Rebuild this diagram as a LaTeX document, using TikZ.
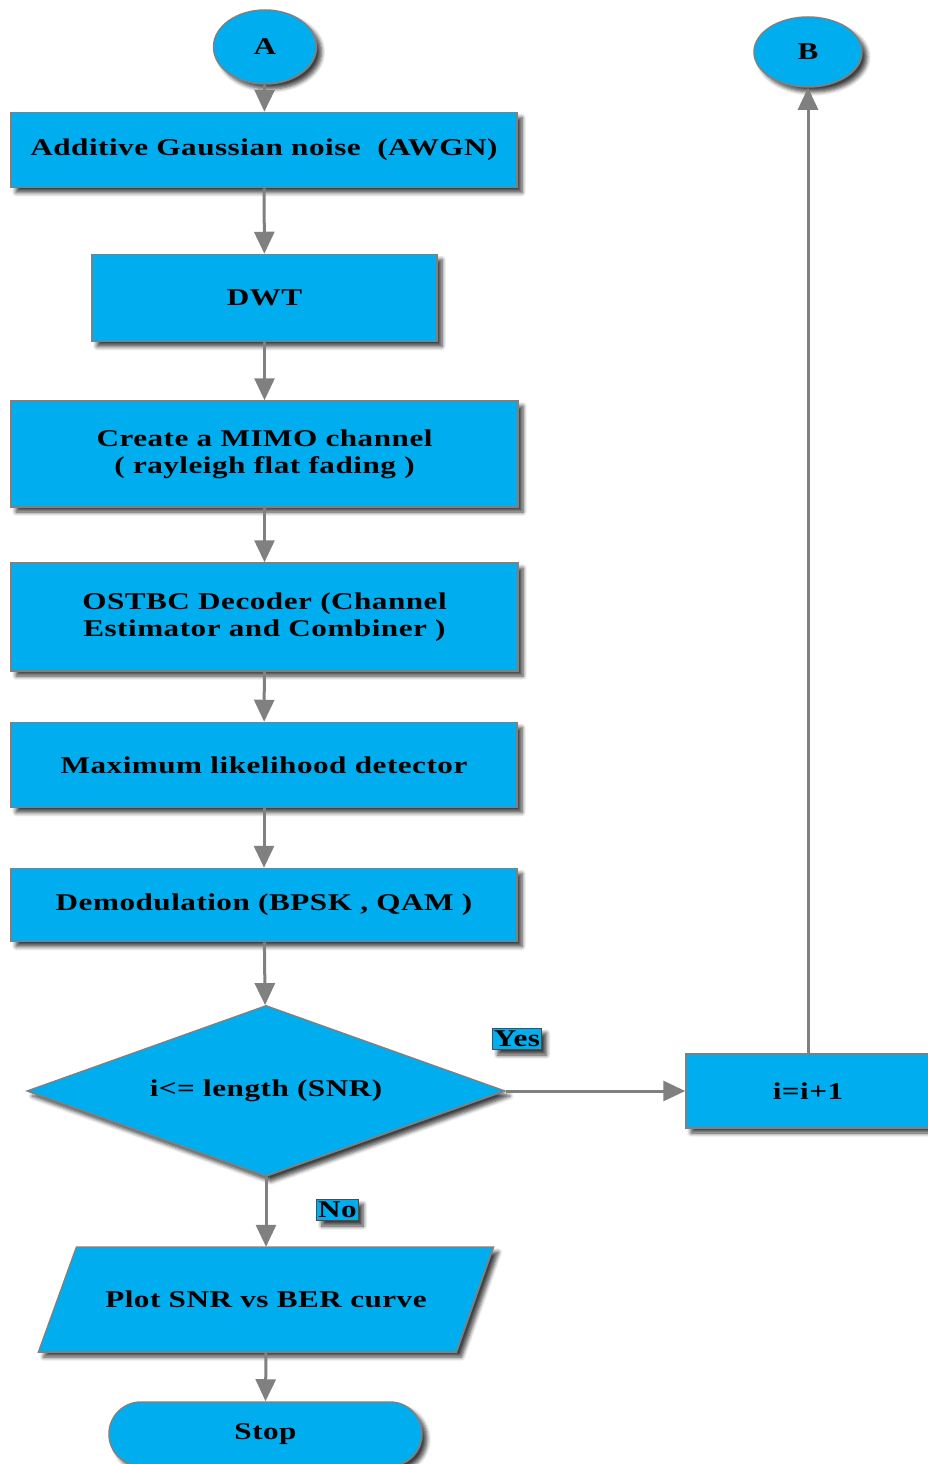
\documentclass[tikz,border=0pt]{standalone}
\usepackage{fontspec}
\setmainfont{Liberation Serif}[FakeStretch=1.3,LetterSpace=2]
\usetikzlibrary{shapes.geometric,shadows.blur,arrows.meta,calc}
\definecolor{boxblue}{HTML}{00AEEF}
\definecolor{edgegray}{HTML}{808080}
\begin{document}
\begin{tikzpicture}[x=1pt,y=-1pt,
  shade box/.style={blur shadow={shadow xshift=5pt,shadow yshift=-5pt,shadow opacity=75,shadow blur radius=4pt,shadow blur steps=6}},
  skin/.style={fill=boxblue,draw=edgegray,line width=1.5pt,shade box},
  label text/.style={text=black,align=center,inner sep=0pt,font=\bfseries\fontsize{24}{27}\selectfont},
  base/.style={skin,label text},
  stepbox/.style={base,rectangle},
  terminal/.style={base,ellipse,minimum width=103pt,minimum height=74pt},
  decision/.style={base,diamond,aspect=2.8,minimum width=478pt,minimum height=171pt},
  tag/.style={fill=boxblue,draw=black!70,line width=1pt,inner xsep=1.5pt,inner ysep=3pt,text=black,
    font=\bfseries\fontsize{24}{26}\selectfont,shade box},
  flow/.style={draw=edgegray,line width=3pt,-{Triangle[length=22pt,width=20pt,fill=edgegray]}}
]
\useasboundingbox (0,0) rectangle (928,1464);

% start and loop connectors
\node[terminal] (A) at (265,47) {A};
\node[terminal,minimum width=108pt,minimum height=70pt] (B) at (808,52) {B};

% processing chain
\node[stepbox,minimum width=506pt,minimum height=75pt] (awgn) at (264,150) {Additive Gaussian noise\ \ (AWGN)};
\node[stepbox,minimum width=345pt,minimum height=87pt] (dwt) at (264.5,298) {DWT};
\node[stepbox,minimum width=507pt,minimum height=106pt] (mimo) at (264.5,454) {Create a MIMO channel\\( rayleigh flat fading )};
\node[stepbox,minimum width=507pt,minimum height=108pt] (ostbc) at (264.5,617) {OSTBC Decoder (Channel\\Estimator and Combiner )};
\node[stepbox,minimum width=506pt,minimum height=85pt] (ml) at (264,765) {Maximum likelihood detector};
\node[stepbox,minimum width=506pt,minimum height=73pt] (demod) at (264,905) {Demodulation (BPSK , QAM )};

% loop test
\node[decision] (test) at (266,1091) {i<= length (SNR)};
\node[stepbox,minimum width=244pt,minimum height=74pt] (inc) at (808,1091) {i=i+1};

% output: slanted box first, then its text node on top
\coordinate (plotc) at (266,1299.5);
\path[skin] ($(plotc)+(-227.5,52.5)$) -- ($(plotc)+(-189.5,-52.5)$) -- ($(plotc)+(227.5,-52.5)$)
  -- ($(plotc)+(190.5,52.5)$) -- cycle;
\node[label text,rectangle,minimum width=455pt,minimum height=105pt] (plot) at (plotc) {Plot SNR vs BER curve};

% end
\node[stepbox,rounded corners=32pt,minimum width=313pt,minimum height=64pt] (stop) at (265.5,1434) {Stop};

% branch labels
\node[tag] (yes) at (517,1039) {Yes};
\node[tag] (no) at (337.5,1210) {No};

% connectors
\draw[flow] (A) -- (awgn);
\draw[flow] (awgn) -- (dwt);
\draw[flow] (dwt) -- (mimo);
\draw[flow] (mimo) -- (ostbc);
\draw[flow] (ostbc) -- (ml);
\draw[flow] (ml) -- (demod);
\draw[flow] (demod) -- (test);
\draw[flow] (test.east) -- (inc.west);
\draw[flow] (inc.north -| B.south) -- (B.south);
\draw[flow] (test.south) -- (plot.north);
\draw[flow] (plot.south) -- (stop.north);
\end{tikzpicture}
\end{document}
